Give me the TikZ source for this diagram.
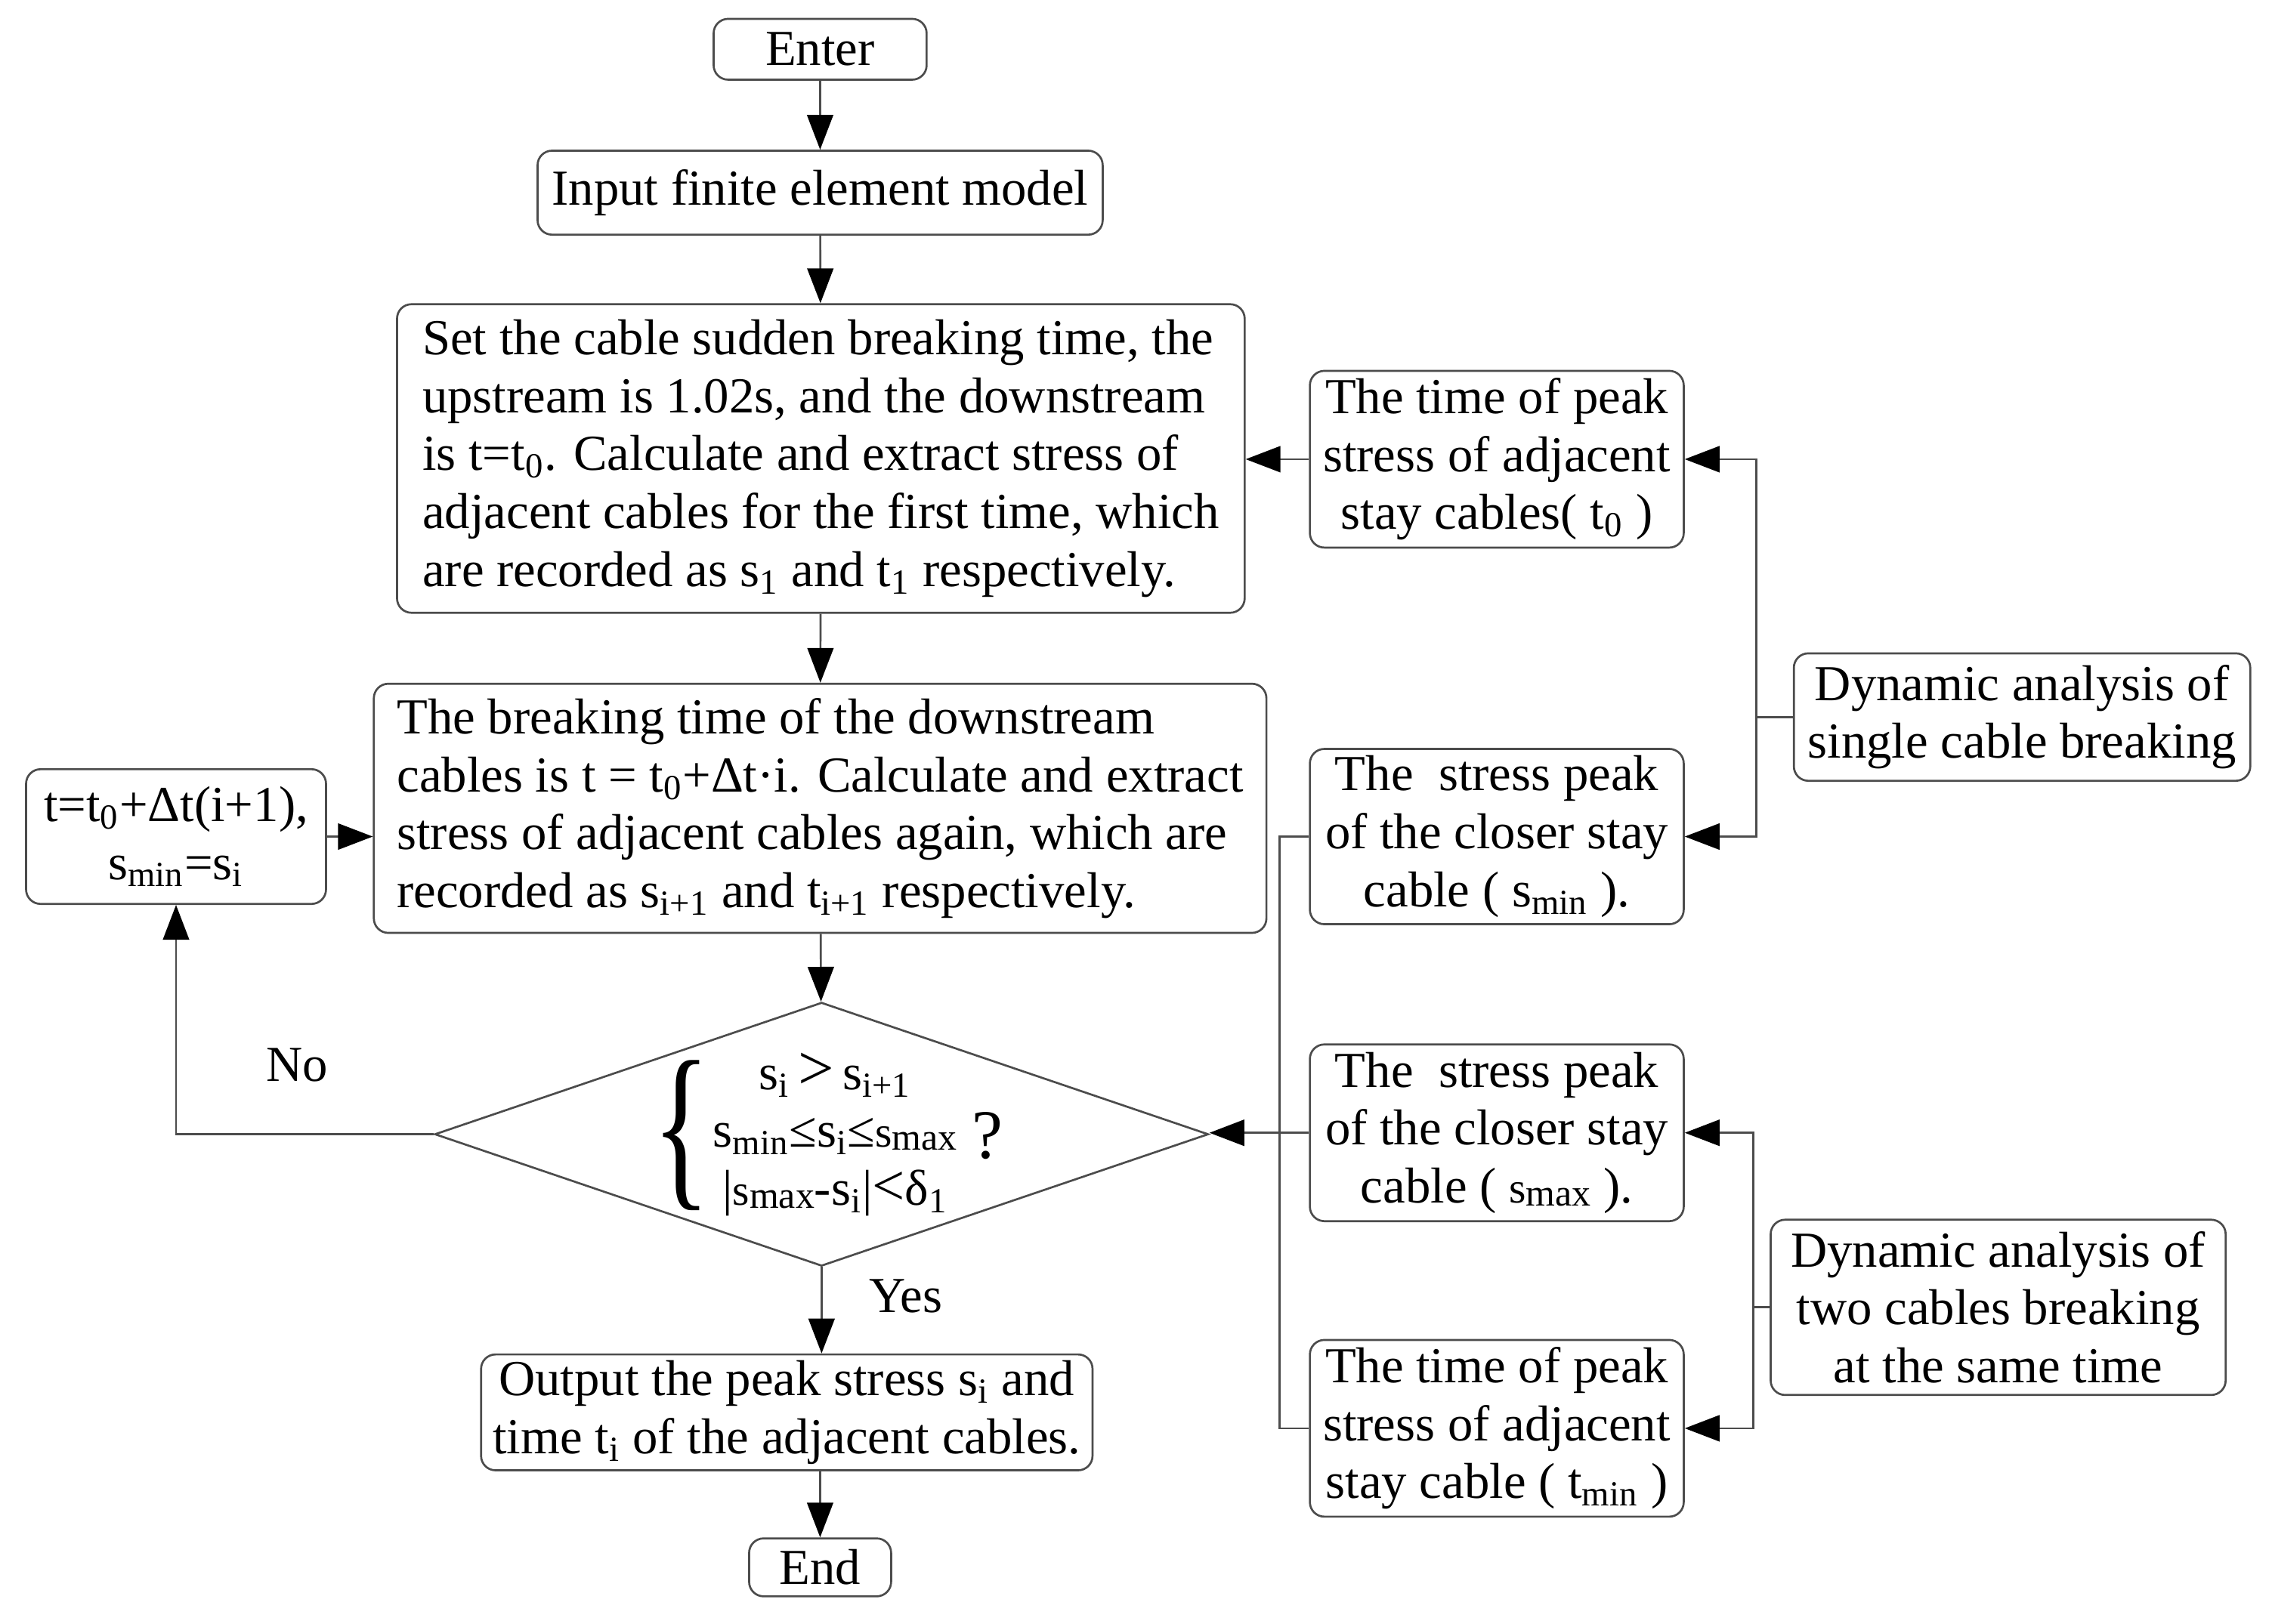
\documentclass[tikz,border=0pt]{standalone}
\usepackage{fontspec}
\usepackage{graphicx}
\setmainfont{Liberation Serif}
\usetikzlibrary{arrows.meta,shapes.geometric}
\newcommand\myfs{\fontsize{17.4}{20}\selectfont}
\newcommand\sbs[1]{\textsubscript{#1}}
\newcommand\smaxtxt{{\fontsize{15}{15}\selectfont s\raisebox{-1pt}{\fontsize{13}{13}\selectfont max}}}
\tikzset{
  box/.style={draw=black!70, line width=0.7pt, rounded corners=5pt, inner sep=0pt, align=center, font=\myfs},
  boxl/.style={box, align=left},
  arr/.style={-{Triangle[length=12pt,width=9pt,color=black]}, line width=0.7pt, draw=black!70},
  ln/.style={line width=0.7pt, draw=black!70},
  lbl/.style={font=\myfs, inner sep=0pt},
}
\begin{document}
\begin{tikzpicture}[x=0.5pt,y=-0.5pt]
\useasboundingbox (0,0) rectangle (1568,1121);
% main column
\node[box, minimum width=73.5pt, minimum height=21pt] (enter) at (566,34) {Enter};
\node[box, minimum width=195pt, minimum height=29pt] (input) at (566,133) {Input finite element model};
\node[boxl, minimum width=292.5pt, minimum height=106.5pt] (set) at (566.5,316.5) {Set the cable sudden breaking time, the\\
upstream is 1.02s, and the downstream\\
is t=t\sbs{0}. Calculate and extract stress of\\
adjacent cables for the first time, which\\
are recorded as s\sbs{1} and t\sbs{1} respectively.};
\node[boxl, minimum width=308pt, minimum height=86pt] (brk) at (566,558) {The breaking time of the downstream\\
cables is t = t\sbs{0}+Δt·i. Calculate and extract\\
stress of adjacent cables again, which are\\
recorded as s\sbs{i+1} and t\sbs{i+1} respectively.};
\node[box, minimum width=103.5pt, minimum height=46.5pt] (left) at (121.5,577.5) {t=t\sbs{0}+Δt(i+1),\\ s\sbs{min}=s\sbs{i}};
\node[draw=black!70, line width=0.7pt, shape=diamond, inner sep=0pt, minimum width=267pt, minimum height=91pt] (dia) at (567,783) {};
\node[lbl] (cond) at (571,784) {$\vcenter{\hbox{\scalebox{0.72}[1.08]{\fontsize{58}{58}\selectfont\{}}}$\hspace{1pt}$\vcenter{\hbox{\begin{tabular}{@{}c@{}}s\sbs{i}\,{\fontsize{22}{22}\selectfont >}\,s\sbs{i+1}\\ s\sbs{min}≤s\sbs{i}≤\smaxtxt\\ |\smaxtxt-s\sbs{i}|{\fontsize{20}{20}\selectfont <}δ\sbs{1}\end{tabular}}}$\hspace{5pt}$\vcenter{\hbox{\fontsize{24}{24}\selectfont ?}}$};
\node[box, minimum width=211pt, minimum height=40pt] (out) at (543,975) {Output the peak stress s\sbs{i} and\\time t\sbs{i} of the adjacent cables.};
\node[box, minimum width=49pt, minimum height=20pt] (end) at (566,1082) {End};
\node[lbl] (no) at (205,735) {No};
\node[lbl] (yes) at (625,895) {Yes};
% right column
\node[box, minimum width=129pt, minimum height=61pt] (A) at (1033,317) {The time of peak\\stress of adjacent\\stay cables( t\sbs{0} )};
\node[box, minimum width=129pt, minimum height=60.5pt] (B) at (1033,577.5) {The\ \ stress peak\\of the closer stay\\cable ( s\sbs{min} ).};
\node[box, minimum width=129pt, minimum height=61pt] (C) at (1033,782) {The\ \ stress peak\\of the closer stay\\cable ( \smaxtxt\ ).};
\node[box, minimum width=129pt, minimum height=61pt] (D) at (1033,986) {The time of peak\\stress of adjacent\\stay cable ( t\sbs{min} )};
\node[box, minimum width=157.5pt, minimum height=44pt] (single) at (1395.5,495) {Dynamic analysis of\\single cable breaking};
\node[box, minimum width=157pt, minimum height=60.5pt] (two) at (1379,902.5) {Dynamic analysis of\\two cables breaking\\at the same time};
% bus coordinates
\coordinate (bs) at (1212,495);
\coordinate (bt) at (1210,902.5);
\coordinate (bl) at (883,782);
% connectors
\draw[arr] (enter) -- (input);
\draw[arr] (input) -- (set);
\draw[arr] (set) -- (brk);
\draw[arr] (brk) -- (dia);
\draw[arr] (dia.south) -- (dia.south |- out.north);
\draw[arr] (end.north |- out.south) -- (end.north);
\draw[arr] (dia.west) -| (left.south);
\draw[arr] (left.east) -- (left.east -| brk.west);
\draw[arr] (A.west) -- (A.west -| set.east);
\draw[ln] (single.west) -- (bs);
\draw[arr] (bs) |- (A.east);
\draw[arr] (bs) |- (B.east);
\draw[ln] (two.west) -- (bt);
\draw[arr] (bt) |- (C.east);
\draw[arr] (bt) |- (D.east);
\draw[ln] (B.west) -| (bl);
\draw[ln] (D.west) -| (bl);
\draw[arr] (C.west) -- (C.west -| dia.east);
\end{tikzpicture}
\end{document}
